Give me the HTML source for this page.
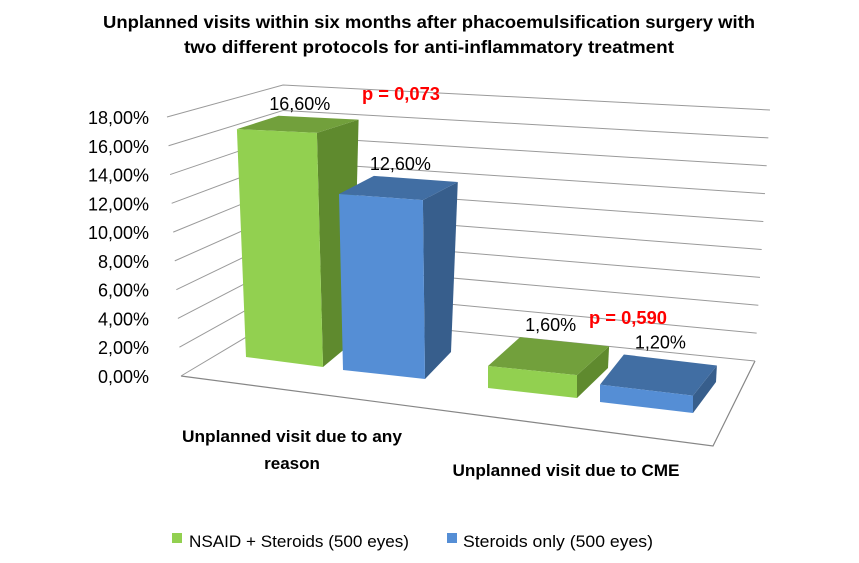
<!DOCTYPE html>
<html><head><meta charset="utf-8"><style>
body{margin:0;background:#fff;}
svg{display:block;font-family:"Liberation Sans",sans-serif;}
</style></head><body>
<svg id="chart" width="859" height="563" viewBox="0 0 859 563">
<g id="grid"></g>
<g id="ticks"></g>
<g id="bars"></g>
<g id="vals"></g>
<text x="429" y="28" text-anchor="middle" font-size="17.5" font-weight="bold" fill="#000" textLength="652" lengthAdjust="spacingAndGlyphs">Unplanned visits within six months after phacoemulsification surgery with</text>
<text x="429" y="53" text-anchor="middle" font-size="17.5" font-weight="bold" fill="#000" textLength="490" lengthAdjust="spacingAndGlyphs">two different protocols for anti-inflammatory treatment</text>
<text x="401" y="100" text-anchor="middle" font-size="18" font-weight="bold" fill="#ff0000" textLength="78" lengthAdjust="spacingAndGlyphs">p = 0,073</text>
<text x="628" y="324" text-anchor="middle" font-size="18" font-weight="bold" fill="#ff0000" textLength="78" lengthAdjust="spacingAndGlyphs">p = 0,590</text>
<text x="292" y="442" text-anchor="middle" font-size="17" font-weight="bold" textLength="220" lengthAdjust="spacingAndGlyphs">Unplanned visit due to any</text>
<text x="292" y="469" text-anchor="middle" font-size="17" font-weight="bold">reason</text>
<text x="566" y="476" text-anchor="middle" font-size="17" font-weight="bold" textLength="227" lengthAdjust="spacingAndGlyphs">Unplanned visit due to CME</text>
<g>
<rect x="172" y="533" width="10" height="10" fill="#92d050"/>
<text x="189" y="547" font-size="17" textLength="220" lengthAdjust="spacingAndGlyphs">NSAID + Steroids (500 eyes)</text>
<rect x="447" y="533" width="10" height="10" fill="#558ed5"/>
<text x="463" y="547" font-size="17" textLength="190" lengthAdjust="spacingAndGlyphs">Steroids only (500 eyes)</text>
</g>
</svg>
<script>
const categories = ["Unplanned visit due to any reason", "Unplanned visit due to CME"];
const nsaidValues = [16.6, 1.6];
const steroidValues = [12.6, 1.2];
const tickValues = [0, 2, 4, 6, 8, 10, 12, 14, 16, 18];
const tickLabels = ["0,00%","2,00%","4,00%","6,00%","8,00%","10,00%","12,00%","14,00%","16,00%","18,00%"];
const valueLabelsNsaid = ["16,60%", "1,60%"];
const valueLabelsSteroid = ["12,60%", "1,20%"];

const NS = "http://www.w3.org/2000/svg";
function mk(tag, attrs, parent){const e=document.createElementNS(NS,tag);for(const k in attrs)e.setAttribute(k,attrs[k]);parent.appendChild(e);return e;}
const VMAX = 18;
function lerp(a,b,t){return a+(b-a)*t;}
function frontLeft(v){const t=v/VMAX;return [lerp(181,167,t),lerp(376,117,t)];}
function backLeft(v){const t=v/VMAX;return [lerp(285,283,t),lerp(314,85,t)];}
function backRight(v){const t=v/VMAX;return [lerp(755,770,t),lerp(361,110,t)];}

const grid=document.getElementById('grid');
mk('polyline',{points:"181,376 713,446 755,361",fill:"none",stroke:"#868686","stroke-width":1.2},grid);
tickValues.forEach((v,i)=>{
  const a=frontLeft(v),b=backLeft(v),c=backRight(v);
  const l=mk('polyline',{points:`${a[0]},${a[1]} ${b[0]},${b[1]} ${c[0]},${c[1]}`,fill:"none",stroke:"#9a9a9a","stroke-width":1},grid);
  
  
  const t=mk('text',{x:149,y:a[1]+7,"text-anchor":"end","font-size":18},document.getElementById('ticks'));
  t.textContent=tickLabels[i];
  
  
});

const layouts=[
 {fbl:[246,357],fbr:[323,367],sl:13.73,sr:14.1,kl:0.04,kr:0.026,d:[30,-25],dd:0.05},
 {fbl:[343,370],fbr:[425,379],sl:13.97,sr:14.2,kl:0.023,kr:0.012,d:[26,-27],dd:0.05},
 {fbl:[488,388],fbr:[577,398],sl:13.75,sr:14.3,kl:0,kr:0,d:[31,-30],dd:0.05},
 {fbl:[600,402],fbr:[693,413],sl:14.5,sr:14.5,kl:0,kr:0,d:[23,-31],dd:0.05}
];
const series=[
 {vals:nsaidValues,labels:valueLabelsNsaid,front:"#92d050",top:"#72a03c",side:"#5f8a2e",name:"nsaid"},
 {vals:steroidValues,labels:valueLabelsSteroid,front:"#558ed5",top:"#416ea3",side:"#375e8c",name:"steroids"}
];
const bars=document.getElementById('bars'),vals=document.getElementById('vals');
function pts(a){return a.map(p=>p[0].toFixed(1)+","+p[1].toFixed(1)).join(" ");}
categories.forEach((c,ci)=>{
  series.forEach((s,si)=>{
    const L=layouts[ci*2+si], v=s.vals[ci];
    const hl=v*L.sl, hr=v*L.sr;
    const ftl=[L.fbl[0]-L.kl*hl,L.fbl[1]-hl], ftr=[L.fbr[0]-L.kr*hr,L.fbr[1]-hr];
    const dT=[L.d[0]+hr*L.dd,L.d[1]+hr*L.dd];
    const btl=[ftl[0]+dT[0],ftl[1]+dT[1]], btr=[ftr[0]+dT[0],ftr[1]+dT[1]];
    const bbr=[L.fbr[0]+L.d[0],L.fbr[1]+L.d[1]];
    const g=mk('g',{},bars);
    
    
    mk('polygon',{points:pts([ftr,btr,bbr,L.fbr]),fill:s.side},g);
    mk('polygon',{points:pts([ftl,btl,btr,ftr]),fill:s.top},g);
    mk('polygon',{points:pts([ftl,ftr,L.fbr,L.fbl]),fill:s.front},g);
    const cx=(ftl[0]+ftr[0]+btl[0]+btr[0])/4+2;
    const ty=Math.min(btl[1],btr[1])-6;
    const t=mk('text',{x:cx.toFixed(1),y:ty.toFixed(1),"text-anchor":"middle","font-size":18},vals);
    t.textContent=s.labels[ci];
    
    
  });
});
</script>
</body></html>
